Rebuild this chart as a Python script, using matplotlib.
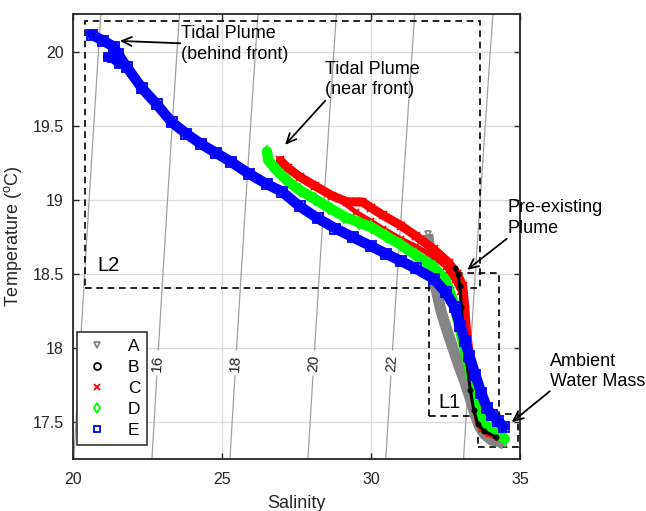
import numpy as np
import matplotlib
matplotlib.use("Agg")
import matplotlib.pyplot as plt
from matplotlib.patches import Rectangle
from matplotlib.lines import Line2D
from matplotlib.ticker import FuncFormatter

plt.rcParams["font.family"] = ["Liberation Sans", "DejaVu Sans"]
plt.rcParams["mathtext.fontset"] = "custom"
plt.rcParams["mathtext.rm"] = "Liberation Sans"
plt.rcParams["mathtext.default"] = "regular"

# ---- T-S profiles of the five stations ----
S_A = [31.90, 31.98, 32.08, 32.18, 32.35, 32.55, 32.75, 32.95, 33.12, 33.30, 33.45, 33.62, 33.80, 34.05, 34.30, 34.48]
T_A = [18.77, 18.65, 18.52, 18.40, 18.25, 18.12, 18.00, 17.88, 17.79, 17.68, 17.58, 17.48, 17.42, 17.38, 17.37, 17.35]

S_B = [32.82, 32.92, 32.98, 33.03, 33.10, 33.20, 33.33, 33.45, 33.58, 33.80, 34.20]
T_B = [18.54, 18.50, 18.42, 18.28, 18.10, 17.92, 17.72, 17.58, 17.49, 17.44, 17.40]

S_C_down = [26.95, 27.20, 27.60, 28.10, 28.70, 29.20, 29.50, 29.70, 30.00, 30.40, 31.00, 31.50,
            32.10, 32.60, 32.90, 33.08, 33.15, 33.20, 33.32, 33.48, 33.62, 33.75, 34.00, 34.32]
T_C_down = [19.27, 19.22, 19.16, 19.10, 19.03, 18.99, 18.99, 18.99, 18.95, 18.90, 18.83, 18.76,
            18.67, 18.58, 18.50, 18.42, 18.26, 18.12, 17.92, 17.70, 17.52, 17.46, 17.43, 17.40]
S_C_up = [28.90, 29.50, 30.00, 30.40, 31.00, 31.50, 32.10, 32.50, 32.80, 33.00]
T_C_up = [19.01, 18.92, 18.86, 18.81, 18.74, 18.69, 18.62, 18.55, 18.46, 18.38]

S_D = [26.50, 26.55, 26.80, 27.20, 27.60, 28.10, 28.60, 29.10, 29.60, 30.00, 30.50, 31.00, 31.50,
       32.10, 32.50, 32.75, 32.90, 33.05, 33.20, 33.35, 33.50, 33.65, 33.80, 34.05, 34.30, 34.48]
T_D = [19.33, 19.27, 19.21, 19.13, 19.07, 19.01, 18.95, 18.89, 18.85, 18.82, 18.76, 18.70, 18.63,
       18.55, 18.46, 18.32, 18.20, 18.07, 17.95, 17.82, 17.70, 17.57, 17.49, 17.45, 17.42, 17.39]

S_E = [20.62, 21.00, 21.35, 21.50, 21.80, 22.30, 22.80, 23.30, 23.80, 24.30, 24.80, 25.30, 25.90,
       26.50, 27.00, 27.60, 28.20, 28.80, 29.40, 30.00, 30.50, 31.00, 31.50, 32.10, 32.50, 32.80,
       33.00, 33.15, 33.30, 33.50, 33.70, 33.88, 34.05, 34.25, 34.45]
T_E = [20.12, 20.08, 20.04, 19.99, 19.90, 19.76, 19.65, 19.53, 19.45, 19.38, 19.32, 19.26, 19.18,
       19.11, 19.06, 18.96, 18.88, 18.81, 18.75, 18.69, 18.64, 18.59, 18.54, 18.47, 18.38, 18.28,
       18.15, 18.05, 17.95, 17.82, 17.70, 17.60, 17.55, 17.51, 17.47]
S_E_step = [21.15, 21.30, 21.55]
T_E_step = [19.97, 19.96, 19.92]

station_labels = ["A", "B", "C", "D", "E"]

# ---- isopycnals (sigma-t) ----
sigma_plain = [14, 24]
sigma_labelled = [16, 18, 20, 22]

# ---- water-mass boxes: (S_min, S_max, T_min, T_max) ----
box_L2 = (20.40, 33.66, 18.41, 20.21)
box_L1 = (31.94, 34.31, 17.54, 18.51)
box_ambient = (33.58, 34.94, 17.335, 17.557)


def sigma_t(S, T):
    """Sea-water density anomaly at the surface (UNESCO 1981)."""
    rho_w = (999.842594 + 6.793952e-2 * T - 9.095290e-3 * T**2 + 1.001685e-4 * T**3
             - 1.120083e-6 * T**4 + 6.536332e-9 * T**5)
    A = 8.24493e-1 - 4.0899e-3 * T + 7.6438e-5 * T**2 - 8.2467e-7 * T**3 + 5.3875e-9 * T**4
    B = -5.72466e-3 + 1.0227e-4 * T - 1.6546e-6 * T**2
    C = 4.8314e-4
    return rho_w + A * S + B * S**1.5 + C * S**2 - 1000.0


fig = plt.figure(figsize=(6.46, 5.11), dpi=100)
ax = fig.add_axes([0.1135, 0.1012, 0.6915, 0.8714])
ax.set_xlim(20, 35)
ax.set_ylim(17.25, 20.26)

ax.grid(True, color="#dadada", lw=0.9, zorder=0)
ax.set_axisbelow(True)

# isopycnal background
Sg, Tg = np.meshgrid(np.linspace(19.0, 36.0, 300), np.linspace(16.8, 20.8, 200))
SIG = sigma_t(Sg, Tg)
ax.contour(Sg, Tg, SIG, levels=sigma_plain, colors="#a0a0a0", linewidths=0.9, zorder=1)
cs = ax.contour(Sg, Tg, SIG, levels=sigma_labelled, colors="#a0a0a0",
                linewidths=0.9, zorder=1)
ax.clabel(cs, fmt="%d", fontsize=11, colors="#222222", inline=True, inline_spacing=4,
          manual=[(22.87, 17.9), (25.5, 17.9), (28.13, 17.9), (30.76, 17.9)])

# dashed water-mass boxes
for (s0, s1, t0, t1) in (box_L2, box_L1, box_ambient):
    ax.add_patch(Rectangle((s0, t0), s1 - s0, t1 - t0, fill=False, ec="black",
                           lw=1.2, ls=(0, (4, 2.8)), zorder=2))

ax.text(20.82, 18.52, "L2", fontsize=14.5, va="baseline", ha="left", zorder=6)
ax.text(32.26, 17.597, "L1", fontsize=14.5, va="baseline", ha="left", zorder=6)


def draw_cast(S, T, color, marker, lw, ms, z, cap="round"):
    ax.plot(S, T, color=color, lw=lw, solid_capstyle=cap,
            solid_joinstyle="round", zorder=z)
    ax.plot(S, T, ls="none", marker=marker, mfc="none", mec=color, ms=ms,
            mew=1.3, zorder=z)


grey, red, green, blue = "#858585", "#ff0000", "#00ff00", "#0000ff"
draw_cast(S_A, T_A, grey, "v", 8.0, 5, 3, cap="butt")
draw_cast(S_C_down, T_C_down, red, "x", 6.5, 6, 4)
draw_cast(S_C_up, T_C_up, red, "x", 3.5, 5, 4)
draw_cast(S_D, T_D, green, "d", 7.5, 6, 4.5)
draw_cast(S_B, T_B, "black", "o", 2.2, 3, 4.8)
draw_cast(S_E, T_E, blue, "s", 7.5, 6.5, 5)
draw_cast(S_E_step, T_E_step, blue, "s", 6.0, 6, 5)

# legend
styles = [(grey, "v"), ("black", "o"), (red, "x"), (green, "d"), (blue, "s")]
handles = [Line2D([], [], ls="none", marker=m, mec=c, mfc="none", ms=5, mew=1.3)
           for c, m in styles]
leg = ax.legend(handles, station_labels, loc="lower left", bbox_to_anchor=(0.009, 0.032),
                borderaxespad=0, fontsize=12.5, frameon=True, fancybox=False,
                edgecolor="#262626", framealpha=1, handlelength=1.5,
                handletextpad=1.0, borderpad=0.4, labelspacing=0.34)
leg.get_frame().set_linewidth(1.1)
leg.set_zorder(10)

# annotations
arrow = dict(arrowstyle="->,head_length=0.7,head_width=0.32", lw=1.3, color="black",
             shrinkA=0, shrinkB=0)
notes = [
    ("Tidal Plume\n(behind front)", (23.62, 20.183), (21.56, 20.078), (23.59, 20.062)),
    ("Tidal Plume\n(near front)", (28.46, 19.945), (27.11, 19.375), (28.46, 19.674)),
    ("Pre-existing\nPlume", (34.59, 19.008), (33.22, 18.53), (34.55, 18.74)),
    ("Ambient\nWater Mass", (36.0, 17.97), (34.72, 17.50), (36.0, 17.71)),
]
for txt, pos, head, tail in notes:
    ax.text(pos[0], pos[1], txt, fontsize=13, ha="left", va="top", linespacing=1.28,
            clip_on=False, zorder=7)
    ax.annotate("", xy=head, xytext=tail, arrowprops=arrow, annotation_clip=False,
                zorder=7)

ax.set_xticks([20, 25, 30, 35])
ax.set_yticks([17.5, 18, 18.5, 19, 19.5, 20])
fmt = FuncFormatter(lambda v, p: "%g" % v)
ax.xaxis.set_major_formatter(fmt)
ax.yaxis.set_major_formatter(fmt)
ax.tick_params(direction="in", top=True, right=True, length=4, width=1.0,
               color="#262626", labelcolor="#262626", labelsize=11.5)
ax.tick_params(axis="x", pad=9)
ax.tick_params(axis="y", pad=7)
for sp in ax.spines.values():
    sp.set_linewidth(1.3)
    sp.set_color("#262626")

ax.set_xlabel("Salinity", fontsize=13, color="#262626", labelpad=6)
ax.set_ylabel("Temperature ($^{o}$C)", fontsize=13, color="#262626", labelpad=6)

fig.savefig("out.png", dpi=100)
